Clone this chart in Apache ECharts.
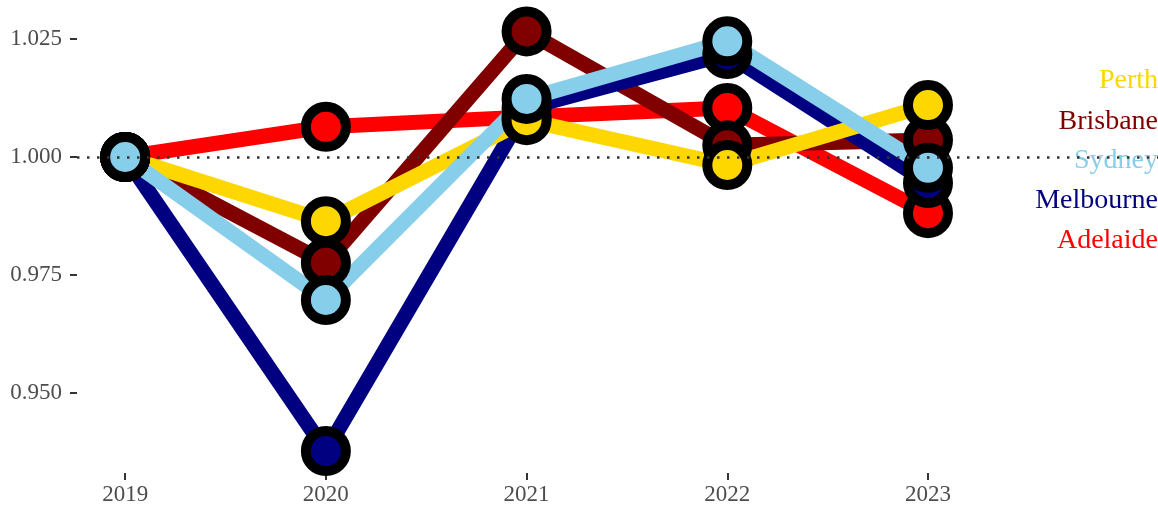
<!DOCTYPE html>
<html>
<head>
<meta charset="utf-8">
<script src="https://cdn.jsdelivr.net/npm/echarts@6/dist/echarts.min.js"></script>
<style>html,body{margin:0;padding:0;background:#fff;}#c{width:1158px;height:506px;}</style>
</head>
<body>
<div id="c"></div>
<script>
const years = [2019, 2020, 2021, 2022, 2023];
const yTicks = [0.950, 0.975, 1.000, 1.025];
// series values (alphabetical draw order)
const adelaide  = [1.000, 1.0064, 1.0085, 1.0104, 0.9881];
const brisbane  = [1.000, 0.9776, 1.0266, 1.0025, 1.0036];
const melbourne = [1.000, 0.9377, 1.0104, 1.0218, 0.9945];
const perth     = [1.000, 0.9864, 1.0078, 0.9983, 1.0110];
const sydney    = [1.000, 0.9697, 1.0123, 1.0245, 0.9977];
const cities = ['Adelaide', 'Brisbane', 'Melbourne', 'Perth', 'Sydney'];
const values = [adelaide, brisbane, melbourne, perth, sydney];
const colors = ['#FF0000', '#800000', '#000080', '#FFD700', '#87CEEB'];
const legendOrder = ['Perth', 'Brisbane', 'Sydney', 'Melbourne', 'Adelaide'];

const FONT = 'Liberation Serif';
const series = [];
cities.forEach((c, i) => {
  series.push({
    name: c, type: 'line', z: 2,
    showSymbol: false, silent: true,
    data: years.map((y, j) => [y, values[i][j]]),
    lineStyle: { color: colors[i], width: 15, cap: 'butt', join: 'miter' },
    itemStyle: { color: colors[i] }
  });
});
cities.forEach((c, i) => {
  series.push({
    name: c, type: 'scatter', z: 3, silent: true,
    data: years.map((y, j) => [y, values[i][j]]),
    symbolSize: 40,
    itemStyle: { color: colors[i], borderColor: '#000', borderWidth: 10, opacity: 1 }
  });
});
series.push({
  type: 'line', z: 10, data: [], silent: true,
  markLine: {
    silent: true, symbol: ['none', 'none'], label: { show: false },
    lineStyle: { color: '#333', width: 2.5, type: [2.5, 7.5] },
    data: [{ yAxis: 1.0 }]
  }
});

const legendTops = [67, 108, 147, 187, 227];
const legends = legendOrder.map((name, k) => ({
  right: 0, top: legendTops[k], orient: 'vertical', padding: 0,
  itemWidth: 0, itemHeight: 0, icon: 'circle', selectedMode: false,
  data: [{ name: name, textStyle: { color: colors[cities.indexOf(name)] } }],
  textStyle: { fontFamily: FONT, fontSize: 28, lineHeight: 28, padding: 0 }
}));

const chart = echarts.init(document.getElementById('c'));
chart.setOption({
  animation: false,
  backgroundColor: '#fff',
  legend: legends,
  grid: { left: 77, right: 0, top: 0, bottom: 33, containLabel: false },
  xAxis: {
    type: 'value', min: 2018.76, max: 2024.146,
    splitLine: { show: false },
    axisLine: { show: false },
    axisTick: { show: true, customValues: years, length: 7, lineStyle: { color: '#333', width: 2 } },
    axisLabel: { customValues: years, margin: 10, fontFamily: FONT, fontSize: 23, color: '#4d4d4d', formatter: v => String(v) }
  },
  yAxis: {
    type: 'value', min: 0.93305, max: 1.03326,
    splitLine: { show: false },
    axisLine: { show: false },
    axisTick: { show: true, customValues: yTicks, length: 7, lineStyle: { color: '#333', width: 2 } },
    axisLabel: { customValues: yTicks, margin: 15, fontFamily: FONT, fontSize: 23, color: '#4d4d4d', formatter: v => v.toFixed(3) }
  },
  series: series
});
</script>
</body>
</html>
